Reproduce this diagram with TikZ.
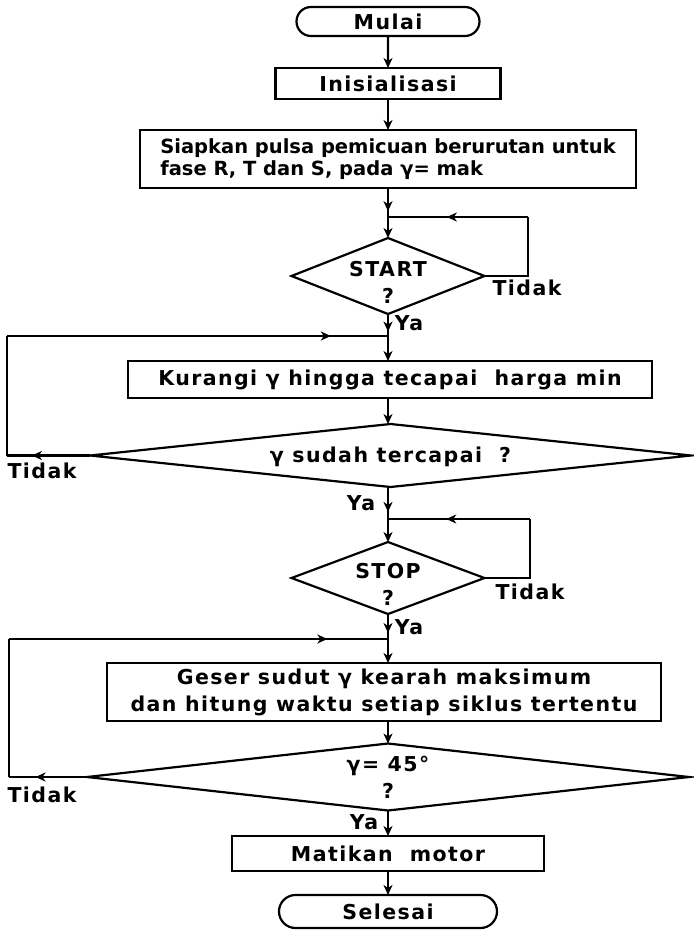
\documentclass[tikz,border=0pt]{standalone}
\usepackage{fontspec}
\newfontfamily\fA{DejaVu Sans}[LetterSpace=7]
\newfontfamily\fS{DejaVu Sans}
\usetikzlibrary{shapes.geometric,shapes.misc,arrows.meta,decorations.markings}
\newcommand\dtext[2][-4pt]{\smash{\makebox[0pt]{\raisebox{#1}{\begin{tabular}{@{}c@{}}#2\end{tabular}}}}}
\tikzset{
  ln/.style={line width=2.2pt, draw=black},
  arr/.style={ln, -{Stealth[length=10pt,width=9pt,inset=3pt]}},
  midarrow/.style={postaction={decorate}, decoration={markings, mark=at position #1 with {\arrow{Stealth[length=10pt,width=9pt,inset=3pt]}}}},
  txt/.style={font=\fA\bfseries\fontsize{20.5}{27}\selectfont},
  box/.style={txt, draw, line width=2.2pt, rectangle, inner sep=0pt, outer sep=0pt, align=center},
  term/.style={txt, draw, line width=2.2pt, rounded rectangle, inner sep=0pt, outer sep=0pt, align=center},
  dia/.style={txt, draw, line width=2.2pt, diamond, inner sep=0pt, outer sep=0pt},
  lbl/.style={txt, inner sep=0pt}
}
\begin{document}
\begin{tikzpicture}[x=1pt,y=-1pt]
\useasboundingbox (0,0) rectangle (694,938);
% nodes
\node[term, minimum width=183pt, minimum height=29pt] (mulai) at (388,21.5) {Mulai};
\node[box, minimum width=225pt, minimum height=31pt] (init) at (388,83.5) {Inisialisasi};
\node[box, minimum width=496pt, minimum height=58pt, align=left, font=\fS\bfseries\fontsize{19.5}{22.5}\selectfont] (siap) at (388,159) {Siapkan pulsa pemicuan berurutan untuk\\fase R, T dan S, pada γ= mak};
\coordinate (j1) at (388,217);
\node[dia, minimum width=193pt, minimum height=76pt] (start) at (388,276) {\dtext[-14pt]{START\\?}};
\coordinate (r1) at (528,217);
\node[lbl] (tid1) at (527,288) {Tidak};
\node[lbl] (ya1) at (409,323) {Ya};
\coordinate (j2) at (388,336);
\node[box, minimum width=524pt, minimum height=37pt] (kur) at (390,379.5) {Kurangi γ hingga tecapai~ harga min};
\node[dia, minimum width=601pt, minimum height=63pt] (d2) at (390.5,455.5) {\dtext[-7pt]{γ sudah tercapai ~?}};
\coordinate (c1) at (7,455.5);
\coordinate (c2) at (7,336);
\node[lbl] (tid2) at (42,471) {Tidak};
\node[lbl] (ya2) at (361,503) {Ya};
\coordinate (j3) at (388,519);
\node[dia, minimum width=193pt, minimum height=72pt] (stop) at (388,578) {\dtext[-14pt]{STOP\\?}};
\coordinate (r3) at (530,519);
\node[lbl] (tid3) at (530,592) {Tidak};
\node[lbl] (ya3) at (409,627) {Ya};
\coordinate (j4) at (388,639);
\node[box, minimum width=554pt, minimum height=58pt] (geser) at (384,692) {Geser sudut γ kearah maksimum\\dan hitung waktu setiap siklus tertentu};
\node[dia, minimum width=602pt, minimum height=67pt] (d4) at (388,777) {\dtext[-7.5pt]{γ= 45°\\?}};
\coordinate (c3) at (9,777);
\coordinate (c4) at (9,639);
\node[lbl] (tid4) at (42,795) {Tidak};
\node[lbl] (ya4) at (364,822) {Ya};
\node[box, minimum width=312pt, minimum height=35pt] (mat) at (388,853.5) {Matikan~ motor};
\node[term, minimum width=218pt, minimum height=33pt] (sel) at (388,911.5) {Selesai};
% connectors
\draw[arr] (mulai) -- (init);
\draw[arr] (init) -- (siap);
\draw[ln, midarrow=0.8] (siap.south -| j1) -- (j1);
\draw[arr] (j1) -- (start.north);
\draw[ln] (start.east) -| (r1);
\draw[ln, midarrow=0.58] (r1) -- (j1);
\draw[ln, midarrow=0.8] (start.south) -- (j2);
\draw[arr] (j2) -- (j2 |- kur.north);
\draw[arr] (j2 |- kur.south) -- (j2 |- d2.north);
\draw[ln, midarrow=0.7] (d2.west) -- (c1);
\draw[ln] (c1) -- (c2);
\draw[ln, midarrow=0.85] (c2) -- (j2);
\draw[ln, midarrow=0.78] (j3 |- d2.south) -- (j3);
\draw[arr] (j3) -- (stop.north);
\draw[ln] (stop.east) -| (r3);
\draw[ln, midarrow=0.59] (r3) -- (j3);
\draw[ln, midarrow=0.76] (stop.south) -- (j4);
\draw[arr] (j4) -- (j4 |- geser.north);
\draw[arr] (j4 |- geser.south) -- (d4.north);
\draw[ln, midarrow=0.66] (d4.west) -- (c3);
\draw[ln] (c3) -- (c4);
\draw[ln, midarrow=0.84] (c4) -- (j4);
\draw[arr] (d4.south) -- (mat.north);
\draw[arr] (mat) -- (sel);
\end{tikzpicture}
\end{document}
